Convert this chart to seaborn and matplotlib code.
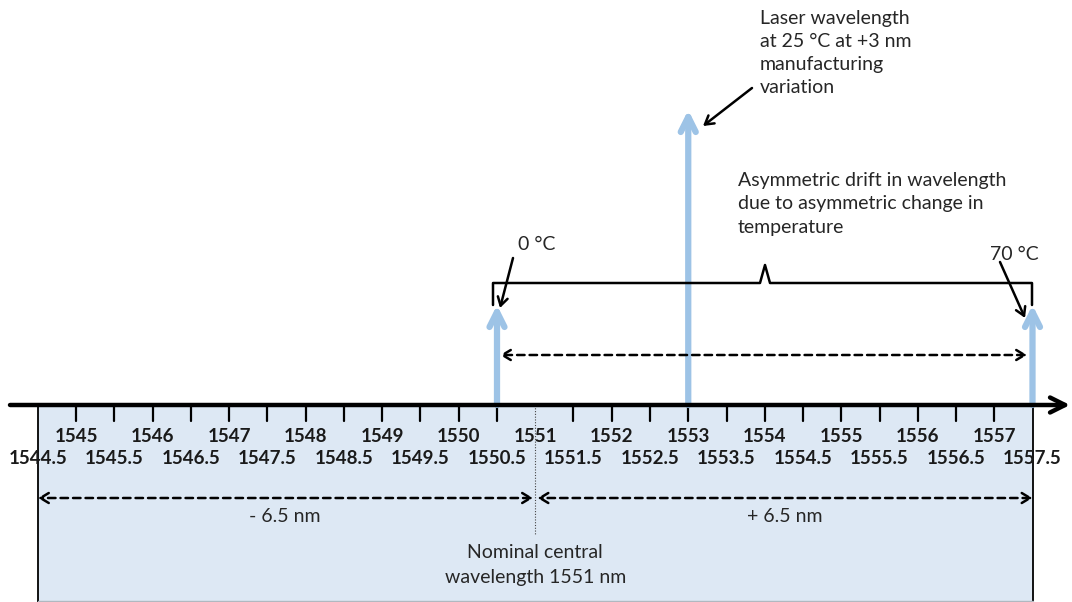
import numpy as np
import pandas as pd
import seaborn as sns
import matplotlib.pyplot as plt

# ---------------------------------------------------------------
# data
# ---------------------------------------------------------------
tick_major = [1545, 1546, 1547, 1548, 1549, 1550, 1551, 1552, 1553, 1554, 1555, 1556, 1557]
tick_half = [1544.5, 1545.5, 1546.5, 1547.5, 1548.5, 1549.5, 1550.5, 1551.5, 1552.5,
             1553.5, 1554.5, 1555.5, 1556.5, 1557.5]
laser_nm = [1550.5, 1553.0, 1557.5]
laser_top = [305, 110, 305]          # arrow tip height (pixel rows, axis at 405)
nominal_nm = 1551.0
band_lo, band_hi = 1544.5, 1557.5
axis_y = 405

sns.set_theme(style="white")
plt.rcParams['font.family'] = ['Lato', 'DejaVu Sans']

BLUE = "#9dc3e6"
FILL = "#dde8f4"
FS = 14

# pixel -> nm conversion for the x axis (76.5 px per nm, 1544.5 at px 38)
PX_PER_NM = 76.5
def nm(px):
    return 1544.5 + (px - 38) / PX_PER_NM

fig = plt.figure(figsize=(10.72, 6.02), dpi=100)
ax = fig.add_axes([0, 0, 1, 1])
ax.set_xlim(nm(0), nm(1072))
ax.set_ylim(602, 0)
ax.axis('off')

# shaded band under the axis
ax.fill_between([band_lo, band_hi], axis_y, 602, color=FILL, lw=0, zorder=0)
ax.plot([band_lo, band_lo], [axis_y, 602], color='black', lw=1.3, zorder=2)
ax.plot([band_hi, band_hi], [axis_y, 602], color='black', lw=1.3, zorder=2)
ax.plot([band_lo, band_hi], [601, 601], color='#b0b8c0', lw=1, zorder=2)

# main wavelength axis with arrow
ax.annotate('', xy=(nm(1070), axis_y), xytext=(nm(10), axis_y),
            arrowprops=dict(arrowstyle='->,head_length=0.9,head_width=0.45',
                            lw=3.2, color='black', shrinkA=0, shrinkB=0), zorder=4)

# ticks every half nm (no solid tick at the nominal wavelength or band edges)
for t in tick_half + tick_major:
    if t <= band_lo or t >= band_hi or t == nominal_nm:
        continue
    ax.plot([t, t], [axis_y, axis_y + 16], color='black', lw=1.6, zorder=3)
for t in tick_major:
    ax.text(t, 437, str(t), ha='center', va='center', fontsize=13.5,
            fontweight='bold', color='#1a1a1a', zorder=5)
for t in tick_half:
    ax.text(t, 458, f"{t:.1f}", ha='center', va='center', fontsize=13.5,
            fontweight='bold', color='#1a1a1a', zorder=5)

# nominal central wavelength marker
ax.plot([nominal_nm, nominal_nm], [axis_y, 535], color='#444444', lw=0.8,
        ls=(0, (1, 1.5)), zorder=2)
dash = dict(arrowstyle='<->,head_length=0.5,head_width=0.3', lw=1.8, color='black',
            ls=(0, (3, 2)), shrinkA=0, shrinkB=0)
ax.annotate('', xy=(band_lo, 498), xytext=(nominal_nm - 0.03, 498), arrowprops=dash)
ax.annotate('', xy=(nominal_nm + 0.03, 498), xytext=(band_hi, 498), arrowprops=dash)
ax.text(nm(285), 516, "- 6.5 nm", ha='center', va='center', fontsize=FS)
ax.text(nm(785), 516, "+ 6.5 nm", ha='center', va='center', fontsize=FS)
ax.text(nominal_nm, 565, "Nominal central\nwavelength 1551 nm", ha='center', va='center',
        fontsize=FS, linespacing=1.55)

# laser wavelength arrows
for x, top in zip(laser_nm, laser_top):
    ax.annotate('', xy=(x, top), xytext=(x, axis_y),
                arrowprops=dict(arrowstyle='->,head_length=0.9,head_width=0.45',
                                lw=4.5, color=BLUE, shrinkA=0, shrinkB=0), zorder=3)

# drift range dashed arrow
ax.annotate('', xy=(nm(500), 355), xytext=(nm(1027), 355), arrowprops=dash)

# bracket
bx = [nm(493), nm(493), nm(760), nm(765), nm(770), nm(1032), nm(1032)]
by = [305, 283, 283, 265, 283, 283, 305]
ax.plot(bx, by, color='black', lw=1.8, zorder=4)
ax.text(nm(738), 204, "Asymmetric drift in wavelength\ndue to asymmetric change in\ntemperature",
        ha='left', va='center', fontsize=FS, linespacing=1.45)

black = dict(arrowstyle='->,head_length=0.5,head_width=0.3', lw=1.8, color='black',
             shrinkA=0, shrinkB=0)
ax.text(nm(518), 245, "0 °C", ha='left', va='center', fontsize=FS)
ax.annotate('', xy=(nm(500), 308), xytext=(nm(513), 258), arrowprops=black)
ax.text(nm(990), 255, "70 °C", ha='left', va='center', fontsize=FS)
ax.annotate('', xy=(nm(1025), 318), xytext=(nm(1000), 262), arrowprops=black)

ax.text(nm(760), 53, "Laser wavelength\nat 25 °C at +3 nm\nmanufacturing\nvariation",
        ha='left', va='center', fontsize=FS, linespacing=1.45)
ax.annotate('', xy=(nm(703), 126), xytext=(nm(752), 88), arrowprops=black)

fig.savefig('out.png', dpi=100)
